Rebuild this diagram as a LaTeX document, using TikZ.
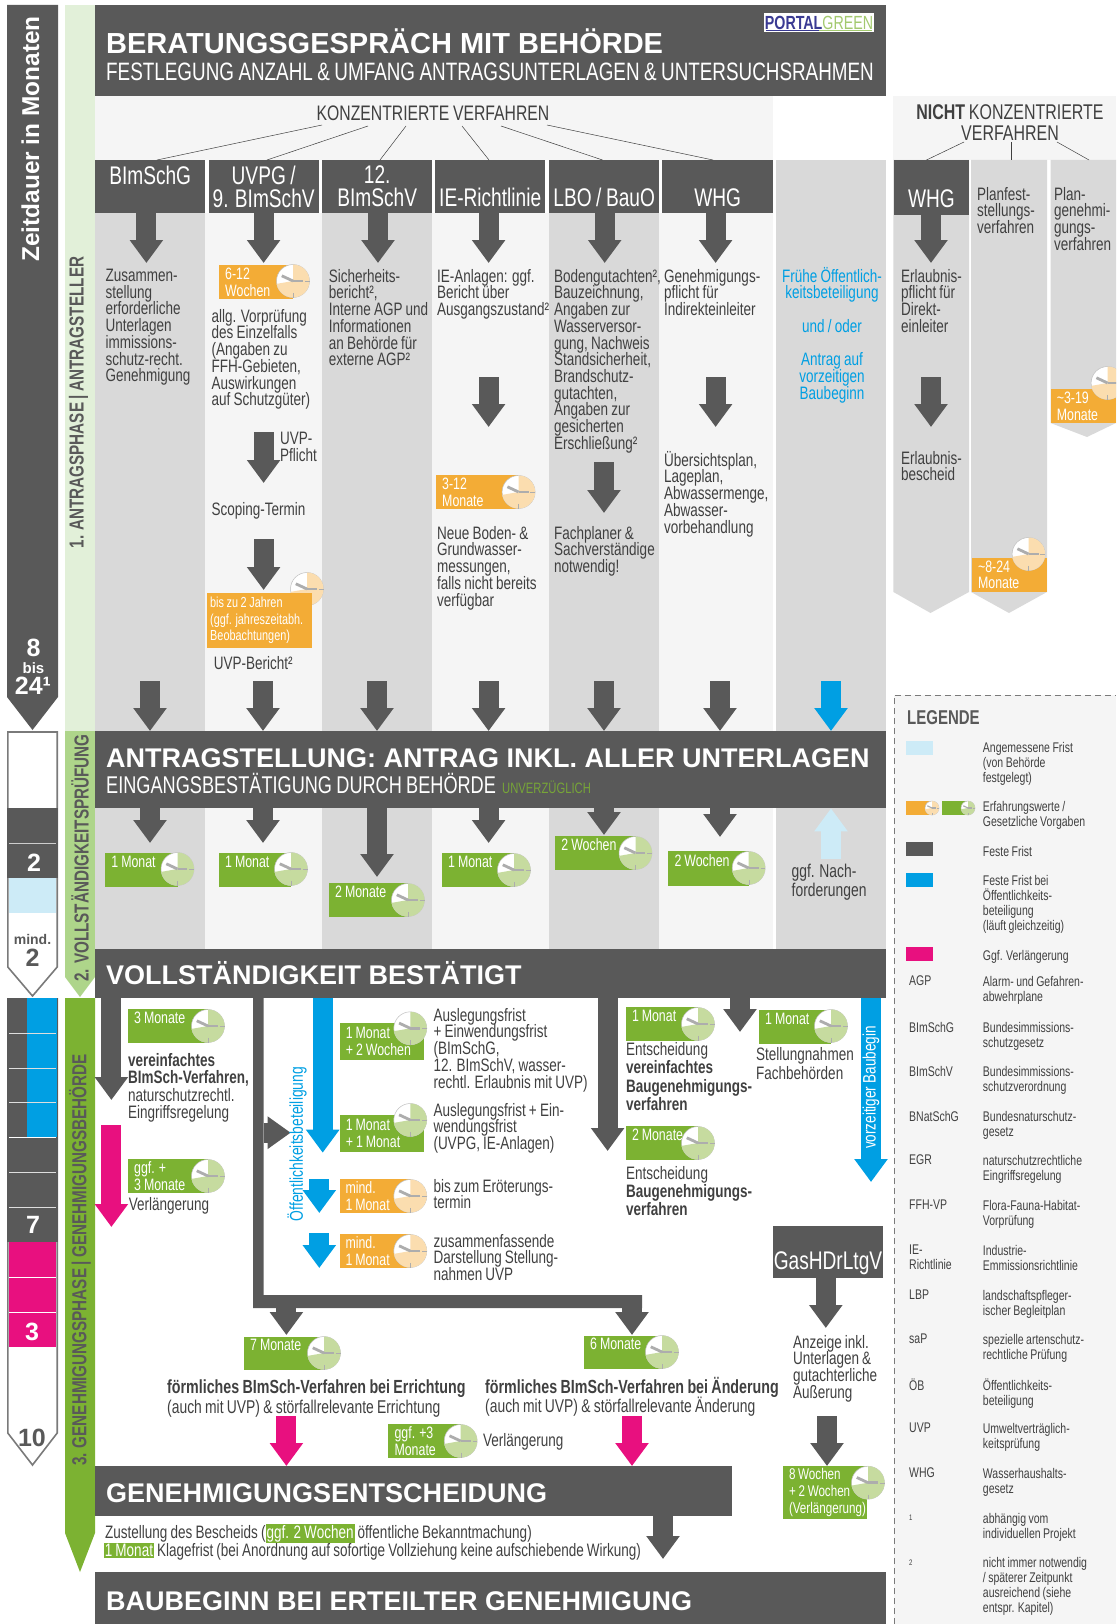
\documentclass[tikz,border=0pt]{standalone}
\usepackage{fontspec}
\setmainfont{Liberation Sans}[FakeStretch=0.75,WordSpace=0.85]
\newfontfamily\headfont{Liberation Sans}
\usetikzlibrary{arrows.meta}
\normallineskiplimit=-6pt
\lineskiplimit=-6pt
\definecolor{dark}{HTML}{595959}
\definecolor{midgrey}{HTML}{D9D9D9}
\definecolor{pale}{HTML}{F5F5F5}
\definecolor{gruen}{HTML}{7CB232}
\definecolor{gruenmid}{HTML}{AED58A}
\definecolor{gruenpale}{HTML}{E2F0D9}
\definecolor{gruendisc}{HTML}{C6DB9F}
\definecolor{orange}{HTML}{F3AC36}
\definecolor{orangedisc}{HTML}{FBDDAF}
\definecolor{blau}{HTML}{009FE3}
\definecolor{hellblau}{HTML}{CDEBF7}
\definecolor{pink}{HTML}{E8107F}
\definecolor{schrift}{HTML}{404040}
\newcommand{\clockdisc}[5][16.5]{
	\node [disc, minimum size=#1*2pt] (#2) at (#3,#4) {};
	\fill [#5] (#2.center) -- ++(90:#1*1pt) arc [start angle=90, end angle=-170, radius=#1*1pt] -- cycle;
	\draw [hand, line width=0.3pt] (#2.center) ++(0:#1*0.72pt) -- ++(0:#1*0.28pt);
	\draw [hand, line width=0.3pt] (#2.center) ++(-90:#1*0.72pt) -- ++(-90:#1*0.28pt);
	\draw [hand, line width=#1*0.17pt] (#2.center) -- ++(155:#1*0.75pt);
	\draw [hand, line width=#1*0.17pt] (#2.center) -- ++(0:#1*0.6pt);
}
\newcommand{\fatarrow}[5][fat]{
	\coordinate (#2a) at (#3,#4);
	\coordinate (#2b) at (#3,#5);
	\draw [#1] (#2a) -- (#2b);
}
\begin{document}
\begin{tikzpicture}[x=1pt,y=-1pt]
	\tikzstyle{every node}+=[inner sep=0pt]
	\tikzstyle{disc}=[circle, fill=white, draw=black!25, line width=0.5pt]
	\tikzstyle{hand}=[color=black!32]
	\tikzstyle{fat}=[draw=dark, line width=20pt, -{Triangle[length=23pt,width=32pt]}]
	\tikzstyle{fatblue}=[fat, draw=blau]
	\tikzstyle{fatpink}=[fat, draw=pink]
	\tikzstyle{fatpale}=[fat, draw=hellblau]
	\tikzstyle{bar}=[fill=dark, anchor=north west]
	\tikzstyle{law}=[fill=dark, anchor=north west, text=white, align=center, font=\fontsize{25.5}{23}\selectfont]
	\tikzstyle{bighead}=[anchor=base west, text=white, font=\headfont\bfseries\fontsize{27}{30}\selectfont]
	\tikzstyle{subhead}=[anchor=base west, text=white, font=\fontsize{25.15}{27}\selectfont]
	\tikzstyle{txt}=[anchor=north west, align=left, text=schrift, font=\fontsize{18}{16.7}\selectfont]
	\tikzstyle{bluetxt}=[txt, text=blau]
	\tikzstyle{gbox}=[anchor=north west, fill=gruen, text=white, align=flush left, inner xsep=6pt, font=\fontsize{16.5}{16.7}\selectfont]
	\tikzstyle{obox}=[gbox, fill=orange]
	\tikzstyle{phase}=[rotate=90, text=dark, font=\bfseries\fontsize{20.3}{20}\selectfont]
	\tikzstyle{bignum}=[text=white, font=\headfont\bfseries\fontsize{25}{25}\selectfont]
	\tikzstyle{swatch}=[anchor=north west, minimum width=26.5pt, minimum height=14pt]
	\tikzstyle{leg}=[anchor=north west, align=left, text=schrift, font=\fontsize{14}{15}\selectfont]
	\useasboundingbox (0,0) rectangle (1116,1624);
	\clip (0,0) rectangle (1116,1624);

	\fill [dark] (7,5) -- (58,5) -- (58,697) -- (32.5,730) -- (7,697) -- cycle;
	\node [rotate=90, text=white, font=\headfont\bfseries\fontsize{24.4}{24}\selectfont] (zeit) at (30.5,139) {Zeitdauer in Monaten};
	\node [bignum] (acht) at (33.5,648) {8};
	\node [text=white, font=\headfont\bfseries\fontsize{15}{15}\selectfont] (bis) at (33.5,668) {bis};
	\node [bignum] (vier) at (33,686) {24¹};

	\fill [white, draw=dark!80, line width=1.6pt] (7.8,732) -- (57.2,732) -- (57.2,967) -- (32.5,996) -- (7.8,967) -- cycle;
	\fill [dark] (7,808) rectangle (58,878);
	\draw [white!70!dark, line width=1pt] (9,843) -- (56,843);
	\fill [hellblau] (9,878) rectangle (56,913);
	\node [bignum] (zwei) at (34,863) {2};
	\node [text=dark, font=\headfont\bfseries\fontsize{14}{14}\selectfont] (mind) at (32.5,939) {mind.};
	\node [bignum, text=dark] (zweib) at (32.5,958) {2};

	\fill [white, draw=dark!80, line width=1.6pt] (7.8,999) -- (57.2,999) -- (57.2,1433) -- (32.5,1465) -- (7.8,1433) -- cycle;
	\fill [dark] (7,998) rectangle (58,1242);
	\fill [blau] (27,998) rectangle (57,1137);
	\fill [pink] (9,1242) rectangle (56,1347);
	\draw [white!80!dark, line width=1pt] (9,1033) -- (56,1033);
	\draw [white!80!dark, line width=1pt] (9,1068) -- (56,1068);
	\draw [white!80!dark, line width=1pt] (9,1102) -- (56,1102);
	\draw [white, line width=1pt] (9,1137) -- (56,1137);
	\draw [white!80!dark, line width=1pt] (9,1172) -- (56,1172);
	\draw [white!80!dark, line width=1pt] (9,1207) -- (56,1207);
	\draw [white, line width=1pt] (9,1277) -- (56,1277);
	\draw [white, line width=1pt] (9,1312) -- (56,1312);
	\node [bignum] (sieben) at (33,1225) {7};
	\node [bignum] (drei) at (32,1332) {3};
	\node [bignum, text=dark] (zehn) at (32,1438) {10};

	\fill [gruenpale] (65,5) rectangle (95,731);
	\fill [gruenmid] (65,731) -- (95,731) -- (95,977) -- (80,997) -- (65,977) -- cycle;
	\fill [gruen] (65,998) -- (95,998) -- (95,1533) -- (80,1572) -- (65,1533) -- cycle;
	\node [phase] (ph1) at (78.5,402.5) {1. ANTRAGSPHASE | ANTRAGSTELLER};
	\node [phase] (ph2) at (80,858) {2. VOLLSTÄNDIGKEITSPRÜFUNG};
	\node [phase] (ph3) at (80,1260) {3. GENEHMIGUNGSPHASE | GENEHMIGUNGSBEHÖRDE};

	\fill [pale] (95,96) rectangle (773,160);
	\fill [pale] (893.4,96) rectangle (1116,160);
	\fill [midgrey] (95,213) rectangle (205,731);
	\fill [pale] (205,213) rectangle (322,731);
	\fill [midgrey] (322,213) rectangle (432,731);
	\fill [pale] (432,213) rectangle (549,731);
	\fill [midgrey] (549,213) rectangle (659,731);
	\fill [pale] (659,213) rectangle (773,731);
	\fill [midgrey] (776,160) rectangle (886,731);
	\fill [midgrey] (95,808) rectangle (205,949);
	\fill [pale] (205,808) rectangle (322,949);
	\fill [midgrey] (322,808) rectangle (432,949);
	\fill [pale] (432,808) rectangle (549,949);
	\fill [midgrey] (549,808) rectangle (659,949);
	\fill [pale] (659,808) rectangle (773,949);
	\fill [midgrey] (776,808) rectangle (886,949);
	\fill [midgrey] (893.4,160) -- (969,160) -- (969,592) -- (930.5,613) -- (893.4,592) -- cycle;
	\fill [midgrey] (971,160) -- (1047,160) -- (1047,592) -- (1009,613) -- (971,592) -- cycle;
	\fill [midgrey] (1050.5,160) -- (1116,160) -- (1116,423) -- (1087,437) -- (1050.5,423) -- cycle;

	\fill [pale] (894,695) rectangle (1116,1624);
	\draw [dark!80, line width=1pt, dash pattern=on 6pt off 4pt] (894,1624) -- (894,695) -- (1116,695);

	\node [bar, minimum width=791pt, minimum height=91pt] (berat) at (95,5) {};
	\node [bar, minimum width=791pt, minimum height=77pt] (antrag) at (95,731) {};
	\node [bar, minimum width=791pt, minimum height=49pt] (vollst) at (95,949) {};
	\node [bar, minimum width=637pt, minimum height=50pt] (genehm) at (95,1466) {};
	\node [bar, minimum width=791pt, minimum height=52.3pt] (baub) at (95,1571.7) {};

	\node [bighead, font=\headfont\bfseries\fontsize{29}{30}\selectfont] (beratT) at (106,54) {BERATUNGSGESPRÄCH MIT BEHÖRDE};
	\node [subhead] (beratS) at (106,81) {FESTLEGUNG ANZAHL \& UMFANG ANTRAGSUNTERLAGEN \& UNTERSUCHSRAHMEN};
	\node [anchor=north west, fill=white, minimum width=109.6pt, minimum height=19pt, font=\fontsize{19}{19}\selectfont] (logo) at (764,13) {\textcolor{blue!35!dark}{\bfseries PORTAL}\textcolor{gruen!70!white}{GREEN}};
	\draw [blue!35!dark, line width=0.8pt] (logo.south west) ++(2,-2) -- ++(53,0);
	\draw [gruen!70!white, line width=0.8pt] (logo.south west) ++(55,-2) -- ++(53,0);
	\node [bighead] (antragT) at (106,767) {ANTRAGSTELLUNG: ANTRAG INKL. ALLER UNTERLAGEN};
	\node [subhead, font=\fontsize{24.2}{25}\selectfont] (antragS) at (106,793) {EINGANGSBESTÄTIGUNG DURCH BEHÖRDE};
	\node [subhead, text=gruen!85!dark, font=\fontsize{15}{18}\selectfont] (unverz) at (502,793) {UNVERZÜGLICH};
	\node [bighead] (vollstT) at (106,984) {VOLLSTÄNDIGKEIT BESTÄTIGT};
	\node [bighead] (genehmT) at (106,1502) {GENEHMIGUNGSENTSCHEIDUNG};
	\node [bighead] (baubT) at (106,1610) {BAUBEGINN BEI ERTEILTER GENEHMIGUNG};

	\node [font=\fontsize{21}{21}\selectfont, text=schrift] (konz) at (433,113) {KONZENTRIERTE VERFAHREN};
	\node [font=\fontsize{21.3}{21}\selectfont, text=schrift, align=center] (nicht) at (1010,122.5) {\textbf{NICHT} KONZENTRIERTE\\VERFAHREN};

	\node [law, minimum width=110pt, minimum height=53pt] (lawA) at (95,160) {BImSchG\\~};
	\node [law, minimum width=110pt, minimum height=53pt] (lawB) at (208.5,160) {UVPG /\\9. BImSchV};
	\node [law, minimum width=110pt, minimum height=53pt] (lawC) at (322,160) {12.\\BImSchV};
	\node [law, minimum width=110pt, minimum height=53pt] (lawD) at (435,160) {\strut\\IE-Richtlinie};
	\node [law, minimum width=110pt, minimum height=53pt] (lawE) at (549,160) {\strut\\LBO / BauO};
	\node [law, minimum width=111pt, minimum height=53pt] (lawF) at (662,160) {\strut\\WHG};
	\node [law, minimum width=75.6pt, minimum height=55pt] (lawG) at (893.4,160) {\strut\\WHG};
	\node [law, minimum width=110.5pt, minimum height=52pt] (lawH) at (772.5,1226) {\strut\\GasHDrLtgV};

	\coordinate (ka) at (322,125);
	\coordinate (kb) at (368,126);
	\coordinate (kc) at (406,126);
	\coordinate (kd) at (462,126);
	\coordinate (ke) at (501,126);
	\coordinate (kf) at (547,125);
	\coordinate (kg) at (964,142);
	\coordinate (kh) at (1011,142);
	\coordinate (ki) at (1057,142);
	\coordinate (la) at (157,160);
	\coordinate (lb) at (267,160);
	\coordinate (lc) at (380,160);
	\coordinate (ld) at (489,160);
	\coordinate (le) at (602.5,160);
	\coordinate (lf) at (713,160);
	\coordinate (lg) at (926.5,160);
	\coordinate (lh) at (1011,160);
	\coordinate (li) at (1089,160);
	\draw [schrift, line width=0.5pt] (ka) -- (la);
	\draw [schrift, line width=0.5pt] (kb) -- (lb);
	\draw [schrift, line width=0.5pt] (kc) -- (lc);
	\draw [schrift, line width=0.5pt] (kd) -- (ld);
	\draw [schrift, line width=0.5pt] (ke) -- (le);
	\draw [schrift, line width=0.5pt] (kf) -- (lf);
	\draw [schrift, line width=0.5pt] (kg) -- (lg);
	\draw [schrift, line width=0.5pt] (kh) -- (lh);
	\draw [schrift, line width=0.5pt] (ki) -- (li);

	\coordinate (tipA) at (146.4,263);
	\coordinate (tipB) at (263.6,263);
	\coordinate (tipC) at (378,263);
	\coordinate (tipD) at (488.6,263);
	\coordinate (tipE) at (604.7,263);
	\coordinate (tipF) at (715.6,263);
	\coordinate (tipG) at (931,263);
	\draw [fat] (tipA |- lawA.south) -- (tipA);
	\draw [fat] (tipB |- lawB.south) -- (tipB);
	\draw [fat] (tipC |- lawC.south) -- (tipC);
	\draw [fat] (tipD |- lawD.south) -- (tipD);
	\draw [fat] (tipE |- lawE.south) -- (tipE);
	\draw [fat] (tipF |- lawF.south) -- (tipF);
	\draw [fat] (tipG |- lawG.south) -- (tipG);
	\fatarrow{ad}{488.6}{377}{427}
	\fatarrow{af}{715.6}{377}{427}
	\fatarrow{ag}{931}{377}{427}
	\fatarrow{ae}{604}{462}{513}
	\fatarrow{ab}{263.6}{432}{483}
	\fatarrow{ac}{263.6}{539}{590}

	\coordinate (inA) at (150,681);
	\coordinate (inB) at (263,681);
	\coordinate (inC) at (377,681);
	\coordinate (inD) at (488.6,681);
	\coordinate (inE) at (604,681);
	\coordinate (inF) at (720,681);
	\coordinate (inG) at (831,681);
	\draw [fat] (inA) -- (inA |- antrag.north);
	\draw [fat] (inB) -- (inB |- antrag.north);
	\draw [fat] (inC) -- (inC |- antrag.north);
	\draw [fat] (inD) -- (inD |- antrag.north);
	\draw [fat] (inE) -- (inE |- antrag.north);
	\draw [fat] (inF) -- (inF |- antrag.north);
	\draw [fatblue] (inG) -- (inG |- antrag.north);

	\coordinate (outA) at (150,843);
	\coordinate (outB) at (263,843);
	\coordinate (outC) at (377,877);
	\coordinate (outD) at (488.6,843);
	\coordinate (outE) at (604,835);
	\coordinate (outF) at (720,837);
	\coordinate (outG) at (831,859);
	\draw [fat] (outA |- antrag.south) -- (outA);
	\draw [fat] (outB |- antrag.south) -- (outB);
	\draw [fat] (outC |- antrag.south) -- (outC);
	\draw [fat] (outD |- antrag.south) -- (outD);
	\draw [fat] (outE |- antrag.south) -- (outE);
	\draw [fat] (outF |- antrag.south) -- (outF);
	\draw [fatpale] (outG) -- (outG |- antrag.south);

	\coordinate (vA) at (111.4,1100);
	\coordinate (vB) at (607.6,1151);
	\coordinate (vC) at (740,1032);
	\coordinate (vD) at (322.7,1152.7);
	\coordinate (vE) at (871,1182);
	\draw [fat] (vA |- vollst.south) -- (vA);
	\draw [fat] (vB |- vollst.south) -- (vB);
	\draw [fat] (vC |- vollst.south) -- (vC);
	\draw [fatblue] (vD |- vollst.south) -- (vD);
	\draw [fatblue] (vE |- vollst.south) -- (vE);
	\fatarrow[fatpink]{ap}{111.4}{1125}{1227}
	\fatarrow[fatblue]{ah}{319.3}{1179}{1213}
	\fatarrow[fatblue]{ai}{319.3}{1233}{1268}

	\fill [dark] (253,998) -- (263.6,998) -- (263.6,1295) -- (642,1295) -- (642,1308) -- (253,1308) -- cycle;
	\fatarrow{fa}{286.4}{1300}{1335}
	\fatarrow{fb}{632}{1295}{1335}
	\coordinate (frC) at (263.6,1132.7);
	\coordinate (frD) at (290.7,1132.7);
	\draw [fat, -{Triangle[length=23pt,width=31pt]}] (frC) -- (frD);

	\coordinate (pkA) at (286.4,1416);
	\coordinate (pkB) at (632,1416);
	\draw [fatpink] (pkA) -- (pkA |- genehm.north);
	\draw [fatpink] (pkB) -- (pkB |- genehm.north);
	\coordinate (exit) at (663,1559);
	\draw [fat] (exit |- genehm.south) -- (exit);
	\coordinate (gasA) at (825.8,1328);
	\draw [fat] (gasA |- lawH.south) -- (gasA);
	\fatarrow{gb}{827}{1416}{1466}

	\node [rotate=90, text=white, font=\fontsize{18}{17}\selectfont] (vzb) at (871,1087.5) {vorzeitiger Baubegin};
	\node [rotate=90, text=blau, font=\fontsize{18.5}{17}\selectfont] (oeff) at (297,1144) {Öffentlichkeitsbeteiligung};

	\node [obox, minimum width=74pt, minimum height=33.7pt, text width=62pt] (o1) at (219,265) {6-12\\Wochen};
	\clockdisc{c1}{293}{281}{orangedisc}
	\node [txt] (tA) at (105.4,269) {Zusammen-\\stellung\\erforderliche\\Unterlagen\\immissions-\\schutz-recht.\\Genehmigung};
	\node [txt] (tB) at (211.4,309) {allg. Vorprüfung\\des Einzelfalls\\(Angaben zu\\FFH-Gebieten,\\Auswirkungen\\auf Schutzgüter)};
	\node [txt] (tBa) at (280,432) {UVP-\\Pflicht};
	\node [txt] (tBb) at (211.4,502) {Scoping-Termin};
	\clockdisc{c2}{307}{589}{orangedisc}
	\node [obox, inner xsep=3pt, minimum width=105pt, minimum height=55pt, text width=99pt, font=\fontsize{14.5}{16.7}\selectfont] (o2) at (207,592.7) {bis zu 2 Jahren\\(ggf. jahreszeitabh.\\Beobachtungen)};
	\node [txt] (tBc) at (213.6,656) {UVP-Bericht²};
	\node [txt] (tC) at (328.6,269) {Sicherheits-\\bericht²,\\Interne AGP und\\Informationen\\an Behörde für\\externe AGP²};
	\node [txt] (tD) at (437,269) {IE-Anlagen: ggf.\\Bericht über\\Ausgangszustand²};
	\node [obox, minimum width=82pt, minimum height=34pt, text width=70pt] (o3) at (436,475) {3-12\\Monate};
	\clockdisc{c3}{518.6}{492}{orangedisc}
	\node [txt] (tDa) at (437,526) {Neue Boden- \&\\Grundwasser-\\messungen,\\falls nicht bereits\\verfügbar};
	\node [txt] (tE) at (554,269) {Bodengutachten²,\\Bauzeichnung,\\Angaben zur\\Wasserversor-\\gung, Nachweis\\Standsicherheit,\\Brandschutz-\\gutachten,\\Angaben zur\\gesicherten\\Erschließung²};
	\node [txt] (tEa) at (554,526) {Fachplaner \&\\Sachverständige\\notwendig!};
	\node [txt] (tF) at (664,269) {Genehmigungs-\\pflicht für\\Indirekteinleiter};
	\node [txt] (tFa) at (664,451) {Übersichtsplan,\\Lageplan,\\Abwassermenge,\\Abwasser-\\vorbehandlung};
	\node [bluetxt, anchor=north, align=center] (tG) at (832,267) {Frühe Öffentlich-\\keitsbeteiligung\\~\\und / oder\\~\\Antrag auf\\vorzeitigen\\Baubeginn};
	\node [txt] (tH) at (900.8,269) {Erlaubnis-\\pflicht für\\Direkt-\\einleiter};
	\node [txt] (tHa) at (900.8,451) {Erlaubnis-\\bescheid};
	\node [txt] (tI) at (977,187) {Planfest-\\stellungs-\\verfahren};
	\node [txt] (tJ) at (1054,187) {Plan-\\genehmi-\\gungs-\\verfahren};
	\node [obox, minimum width=75.3pt, minimum height=34pt, text width=63pt] (o4) at (971.7,557.7) {\textasciitilde 8-24\\Monate};
	\clockdisc{c4}{1028.6}{554}{orangedisc}
	\node [obox, minimum width=65.5pt, minimum height=34pt, text width=53.5pt] (o5) at (1050.6,389) {\textasciitilde 3-19\\Monate};
	\clockdisc{c5}{1107.6}{383}{orangedisc}

	\node [gbox, minimum width=72.5pt, minimum height=33.5pt, text width=60pt] (g1) at (105,853) {1 Monat\\~};
	\clockdisc{d1}{177.5}{869}{gruendisc}
	\node [gbox, minimum width=72pt, minimum height=33.5pt, text width=60pt] (g2) at (219,853) {1 Monat\\~};
	\clockdisc{d2}{291}{869}{gruendisc}
	\node [gbox, minimum width=79pt, minimum height=34pt, text width=67pt] (g3) at (329,883) {2 Monate\\~};
	\clockdisc{d3}{408}{900}{gruendisc}
	\node [gbox, minimum width=72pt, minimum height=34pt, text width=60pt] (g4) at (442,853) {1 Monat\\~};
	\clockdisc{d4}{514}{870}{gruendisc}
	\node [gbox, minimum width=80.5pt, minimum height=34pt, text width=68pt] (g5) at (555,836) {2 Wochen\\~};
	\clockdisc{d5}{635.5}{853}{gruendisc}
	\node [gbox, minimum width=80.7pt, minimum height=34.5pt, text width=68pt] (g6) at (668,851) {2 Wochen\\~};
	\clockdisc{d6}{748.7}{868}{gruendisc}
	\node [txt, text=schrift, font=\fontsize{18.5}{18.5}\selectfont] (tNach) at (791.5,864) {ggf. Nach-\\forderungen};

	\node [gbox, minimum width=80pt, minimum height=33.5pt, text width=68pt] (g7) at (128,1009) {3 Monate\\~};
	\clockdisc{d7}{208}{1026}{gruendisc}
	\node [txt, font=\fontsize{18}{17.5}\selectfont] (tV) at (128,1053) {\textbf{vereinfachtes}\\\textbf{BImSch-Verfahren,}\\naturschutzrechtl.\\Eingriffsregelung};
	\node [gbox, minimum width=80pt, minimum height=33.5pt, text width=68pt] (g8) at (128,1159) {ggf. +\\3 Monate};
	\clockdisc{d8}{208}{1176}{gruendisc}
	\node [txt] (tVa) at (128.6,1197) {Verlängerung};

	\node [gbox, minimum width=84.7pt, minimum height=36.7pt, text width=72pt] (g9) at (339.3,1023) {1 Monat\\+ 2 Wochen};
	\clockdisc{d9}{410.3}{1028.3}{gruendisc}
	\node [gbox, minimum width=84.7pt, minimum height=36.7pt, text width=72pt] (g10) at (339.3,1115) {1 Monat\\+ 1 Monat};
	\clockdisc{d10}{410.3}{1120}{gruendisc}
	\node [obox, minimum width=71pt, minimum height=33.7pt, text width=59pt] (o6) at (339.3,1179) {mind.\\1 Monat};
	\clockdisc{c6}{410.3}{1196}{orangedisc}
	\node [obox, minimum width=71pt, minimum height=34pt, text width=59pt] (o7) at (339.3,1234) {mind.\\1 Monat};
	\clockdisc{c7}{410.3}{1251}{orangedisc}
	\node [txt] (tM) at (433.3,1008) {Auslegungsfrist\\+ Einwendungsfrist\\(BImSchG,\\12. BImSchV, wasser-\\rechtl. Erlaubnis mit UVP)};
	\node [txt] (tMa) at (433.3,1103) {Auslegungsfrist + Ein-\\wendungsfrist\\(UVPG, IE-Anlagen)};
	\node [txt] (tMb) at (433.3,1179) {bis zum Eröterungs-\\termin};
	\node [txt] (tMc) at (433.3,1234) {zusammenfassende\\Darstellung Stellung-\\nahmen UVP};

	\node [gbox, minimum width=72.4pt, minimum height=33.7pt, text width=60pt] (g11) at (625.6,1007) {1 Monat\\~};
	\clockdisc{d11}{698}{1024}{gruendisc}
	\node [txt, font=\fontsize{18}{18.5}\selectfont] (tN) at (626,1042) {Entscheidung\\\textbf{vereinfachtes}\\\textbf{Baugenehmigungs-}\\\textbf{verfahren}};
	\node [gbox, minimum width=72.4pt, minimum height=34pt, text width=60pt] (g12) at (625.6,1126) {2 Monate\\~};
	\clockdisc{d12}{698}{1143}{gruendisc}
	\node [txt, font=\fontsize{18}{18}\selectfont] (tNa) at (626,1166) {Entscheidung\\\textbf{Baugenehmigungs-}\\\textbf{verfahren}};
	\node [gbox, minimum width=72pt, minimum height=33.5pt, text width=60pt] (g13) at (759,1010) {1 Monat\\~};
	\clockdisc{d13}{831}{1026}{gruendisc}
	\node [txt, font=\fontsize{18}{19}\selectfont] (tO) at (756,1047) {Stellungnahmen\\Fachbehörden};

	\node [gbox, minimum width=80pt, minimum height=33.3pt, text width=68pt] (g14) at (244,1336.7) {7 Monate\\~};
	\clockdisc{d14}{324}{1353}{gruendisc}
	\node [gbox, minimum width=78pt, minimum height=33.3pt, text width=66pt] (g15) at (584,1335.7) {6 Monate\\~};
	\clockdisc{d15}{662}{1352}{gruendisc}
	\node [txt, font=\fontsize{18.5}{19.3}\selectfont] (tP) at (167,1380) {{\fontsize{19}{19.3}\selectfont\bfseries förmliches BImSch-Verfahren bei Errichtung}\\(auch mit UVP) \& störfallrelevante Errichtung};
	\node [txt, font=\fontsize{18.5}{19.3}\selectfont] (tQ) at (485,1377) {{\fontsize{19}{19.3}\selectfont\bfseries förmliches BImSch-Verfahren bei Änderung}\\(auch mit UVP) \& störfallrelevante Änderung};
	\node [gbox, minimum width=72.7pt, minimum height=33.7pt, text width=60pt] (g16) at (388,1424) {ggf. +3\\Monate};
	\clockdisc{d16}{460.7}{1441}{gruendisc}
	\node [txt] (tR) at (483,1433) {Verlängerung};
	\node [txt] (tS) at (792.8,1335) {Anzeige inkl.\\Unterlagen \&\\gutachterliche\\Außerung};
	\node [gbox, minimum width=83.8pt, minimum height=52.7pt, text width=72pt, font=\fontsize{15.5}{16.7}\selectfont] (g17) at (782.8,1466) {8 Wochen\\+ 2 Wochen\\(Verlängerung)};
	\clockdisc{d17}{868}{1482.7}{gruendisc}

	\fboxsep=1pt
	\node [txt] (tZ) at (105,1524) {Zustellung des Bescheids (\colorbox{gruen}{\textcolor{white}{ggf. 2 Wochen}}\ öffentliche Bekanntmachung)};
	\node [txt] (tZa) at (103.6,1543) {\colorbox{gruen}{\textcolor{white}{1 Monat}}\,Klagefrist (bei Anordnung auf sofortige Vollziehung keine aufschiebende Wirkung)};

	\node [anchor=base west, text=dark, font=\bfseries\fontsize{20}{20}\selectfont] (legT) at (907,724) {LEGENDE};
	\node [swatch, fill=hellblau] (s1) at (906,741) {};
	\node [leg] (l1) at (982.7,742) {Angemessene Frist\\(von Behörde\\festgelegt)};
	\node [swatch, fill=orange, minimum width=26pt] (s2a) at (906,801) {};
	\clockdisc[7]{sc1}{932}{808}{orangedisc}
	\node [swatch, fill=gruen, minimum width=26pt] (s2b) at (942,801) {};
	\clockdisc[7]{sc2}{968}{808}{gruendisc}
	\node [leg] (l2) at (982.7,801) {Erfahrungswerte /\\Gesetzliche Vorgaben};
	\node [swatch, fill=dark] (s3) at (906,842) {};
	\node [leg] (l3) at (982.7,846) {Feste Frist};
	\node [swatch, fill=blau] (s4) at (906,873) {};
	\node [leg] (l4) at (982.7,875) {Feste Frist bei\\Öffentlichkeits-\\beteiligung\\(läuft gleichzeitig)};
	\node [swatch, fill=pink] (s5) at (906,947) {};
	\node [leg] (l5) at (982.7,950) {Ggf. Verlängerung};
	\node [leg] (k6) at (909,976) {AGP};
	\node [leg] (l6) at (982.7,976) {Alarm- und Gefahren-\\abwehrplane};
	\node [leg] (k7) at (909,1022) {BImSchG};
	\node [leg] (l7) at (982.7,1022) {Bundesimmissions-\\schutzgesetz};
	\node [leg] (k8) at (909,1066) {BImSchV};
	\node [leg] (l8) at (982.7,1066) {Bundesimmissions-\\schutzverordnung};
	\node [leg] (k9) at (909,1111) {BNatSchG};
	\node [leg] (l9) at (982.7,1111) {Bundesnaturschutz-\\gesetz};
	\node [leg] (k10) at (909,1155) {EGR};
	\node [leg] (l10) at (982.7,1155) {naturschutzrechtliche\\Eingriffsregelung};
	\node [leg] (k11) at (909,1200) {FFH-VP};
	\node [leg] (l11) at (982.7,1200) {Flora-Fauna-Habitat-\\Vorprüfung};
	\node [leg] (k12) at (909,1245) {IE-\\Richtlinie};
	\node [leg] (l12) at (982.7,1245) {Industrie-\\Emmissionsrichtlinie};
	\node [leg] (k13) at (909,1290) {LBP};
	\node [leg] (l13) at (982.7,1290) {landschaftspfleger-\\ischer Begleitplan};
	\node [leg] (k14) at (909,1334) {saP};
	\node [leg] (l14) at (982.7,1334) {spezielle artenschutz-\\rechtliche Prüfung};
	\node [leg] (k15) at (909,1379) {ÖB};
	\node [leg] (l15) at (982.7,1379) {Öffentlichkeits-\\beteiligung};
	\node [leg] (k16) at (909,1423) {UVP};
	\node [leg] (l16) at (982.7,1423) {Umweltverträglich-\\keitsprüfung};
	\node [leg] (k17) at (909,1468) {WHG};
	\node [leg] (l17) at (982.7,1468) {Wasserhaushalts-\\gesetz};
	\node [leg, font=\fontsize{8}{8}\selectfont] (k18) at (909,1515) {1};
	\node [leg] (l18) at (982.7,1513) {abhängig vom\\individuellen Projekt};
	\node [leg, font=\fontsize{8}{8}\selectfont] (k19) at (909,1560) {2};
	\node [leg] (l19) at (982.7,1557) {nicht immer notwendig\\/ späterer Zeitpunkt\\ausreichend (siehe\\entspr. Kapitel)};
\end{tikzpicture}
\end{document}
